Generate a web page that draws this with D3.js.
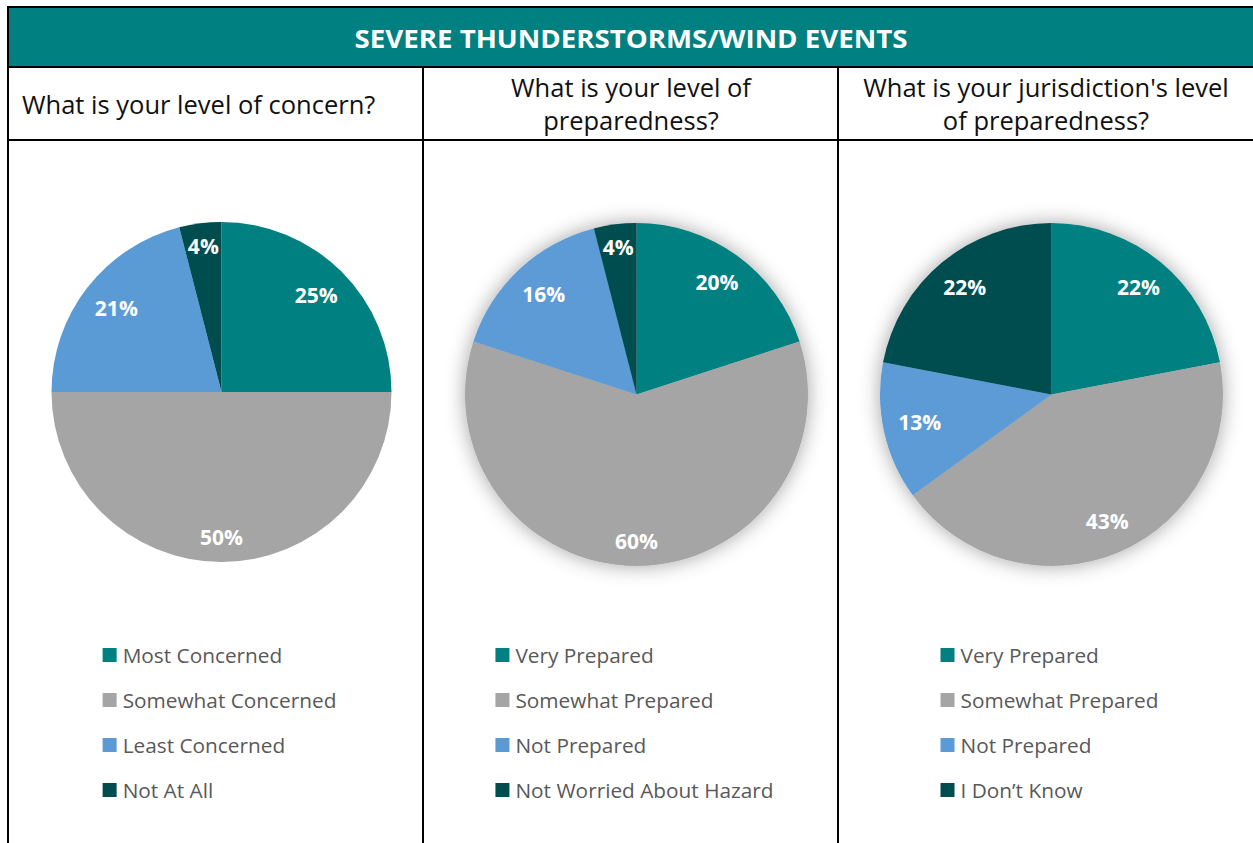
<!DOCTYPE html>
<html lang="en">
<head>
  <meta charset="UTF-8">
  <title>Severe Thunderstorms/Wind Events</title>
  <style>
      body { margin: 0; background: #fff; }
      text { font-family: "Open Sans", sans-serif; }
      .question { font-size: 25.5px; fill: #111; }
      .legend-text { font-size: 20.8px; fill: #595959; }
      .pct { font-size: 21px; font-weight: bold; fill: #fff; }
  </style>
</head>
<body>
<div id="chart"></div>
<script src="https://d3js.org/d3.v7.min.js"></script>
<script>
  const title = "SEVERE THUNDERSTORMS/WIND EVENTS";
  const questions = [
    ["What is your level of concern?"],
    ["What is your level of", "preparedness?"],
    ["What is your jurisdiction's level", "of preparedness?"]
  ];
  const concernLabels = ["Most Concerned", "Somewhat Concerned", "Least Concerned", "Not At All"];
  const concernValues = [25, 50, 21, 4];
  const personalLabels = ["Very Prepared", "Somewhat Prepared", "Not Prepared", "Not Worried About Hazard"];
  const personalValues = [20, 60, 16, 4];
  const jurisdictionLabels = ["Very Prepared", "Somewhat Prepared", "Not Prepared", "I Don\u2019t Know"];
  const jurisdictionValues = [22, 43, 13, 22];
  const sliceColors = ["#008080", "#A5A5A5", "#5B9BD5", "#004D4F"];

  const width = 1253, height = 843;
  const svg = d3.select("#chart").append("svg")
    .attr("width", width)
    .attr("height", height);

  const defs = svg.append("defs");
  const shadow = defs.append("filter")
    .attr("id", "soft-shadow")
    .attr("x", "-25%").attr("y", "-25%")
    .attr("width", "150%").attr("height", "150%");
  shadow.append("feDropShadow")
    .attr("dx", 0).attr("dy", 0)
    .attr("stdDeviation", 10)
    .attr("flood-color", "#000")
    .attr("flood-opacity", 0.36);

  // table frame
  const colX = [7, 423, 838];
  const topY = 7, headY = 67, qY = 140;

  svg.append("rect")
    .attr("x", colX[0]).attr("y", topY)
    .attr("width", width - colX[0] + 5).attr("height", headY - topY)
    .attr("fill", "#008080");

  svg.append("text")
    .attr("x", 631).attr("y", 38)
    .attr("text-anchor", "middle")
    .attr("dominant-baseline", "central")
    .attr("textLength", 553)
    .attr("lengthAdjust", "spacingAndGlyphs")
    .style("font-size", "25px")
    .style("font-weight", "bold")
    .style("fill", "#fff")
    .text(title);

  const lines = svg.append("g").attr("stroke", "#000").attr("stroke-width", 2);
  lines.append("line").attr("x1", colX[0]).attr("x2", width).attr("y1", topY).attr("y2", topY);
  lines.append("line").attr("x1", colX[0]).attr("x2", width).attr("y1", headY).attr("y2", headY);
  lines.append("line").attr("x1", colX[0]).attr("x2", width).attr("y1", qY).attr("y2", qY);
  lines.append("line").attr("x1", colX[0] + 1).attr("x2", colX[0] + 1).attr("y1", topY).attr("y2", height);
  lines.append("line").attr("x1", colX[1]).attr("x2", colX[1]).attr("y1", headY).attr("y2", height);
  lines.append("line").attr("x1", colX[2]).attr("x2", colX[2]).attr("y1", headY).attr("y2", height);

  // question headers
  const qPos = [
    {x: 22, anchor: "start", ys: [104]},
    {x: 631, anchor: "middle", ys: [87, 120]},
    {x: 1046, anchor: "middle", ys: [87, 120]}
  ];
  questions.forEach((q, i) => {
    q.forEach((line, j) => {
      svg.append("text")
        .attr("class", "question")
        .attr("x", qPos[i].x)
        .attr("y", qPos[i].ys[j])
        .attr("text-anchor", qPos[i].anchor)
        .attr("dominant-baseline", "central")
        .text(line);
    });
  });

  const panels = [
    {labels: concernLabels, values: concernValues, cx: 221.5, cy: 392, r: 170, shadow: false},
    {labels: personalLabels, values: personalValues, cx: 636.5, cy: 394.5, r: 171.5, shadow: true},
    {labels: jurisdictionLabels, values: jurisdictionValues, cx: 1051.5, cy: 394.5, r: 171.5, shadow: true}
  ];

  const pie = d3.pie().sort(null).value(d => d);
  const color = d3.scaleOrdinal().domain(d3.range(4)).range(sliceColors);
  const rimGap = 11;

  panels.forEach(p => {
    const g = svg.append("g").attr("transform", `translate(${p.cx},${p.cy})`);
    const arc = d3.arc().innerRadius(0).outerRadius(p.r);
    const arcs = pie(p.values);

    const slices = g.append("g");
    if (p.shadow) slices.attr("filter", "url(#soft-shadow)");
    slices.selectAll("path")
      .data(arcs)
      .enter().append("path")
      .attr("d", arc)
      .attr("fill", (d, i) => color(i));

    // labels sit inside the slice, their box kept a fixed gap from the rim
    g.selectAll("text.pct")
      .data(arcs)
      .enter().append("text")
      .attr("class", "pct")
      .attr("text-anchor", "middle")
      .attr("dominant-baseline", "central")
      .attr("dy", -2)
      .text(d => d.data + "%")
      .attr("transform", function (d) {
        const a = (d.startAngle + d.endAngle) / 2;
        const ux = Math.sin(a), uy = -Math.cos(a);
        const hw = this.getComputedTextLength() / 2 + 2, hh = 12;
        const dist = p.r - rimGap - (hw * Math.abs(ux) + hh * Math.abs(uy));
        return `translate(${ux * dist},${uy * dist})`;
      });

    // legend, centred under the pie
    const legend = svg.append("g");
    const items = legend.selectAll("g")
      .data(p.labels)
      .enter().append("g")
      .attr("transform", (d, i) => `translate(0,${655 + i * 45})`);
    items.append("rect")
      .attr("x", 0).attr("y", -7)
      .attr("width", 14).attr("height", 14)
      .attr("fill", (d, i) => color(i));
    items.append("text")
      .attr("class", "legend-text")
      .attr("x", 20)
      .attr("dominant-baseline", "central")
      .text(d => d);
    const w = d3.max(items.select("text").nodes(), n => n.getComputedTextLength()) + 20;
    legend.attr("transform", `translate(${p.cx - w / 2 - 2},0)`);
  });
</script>
</body>
</html>
